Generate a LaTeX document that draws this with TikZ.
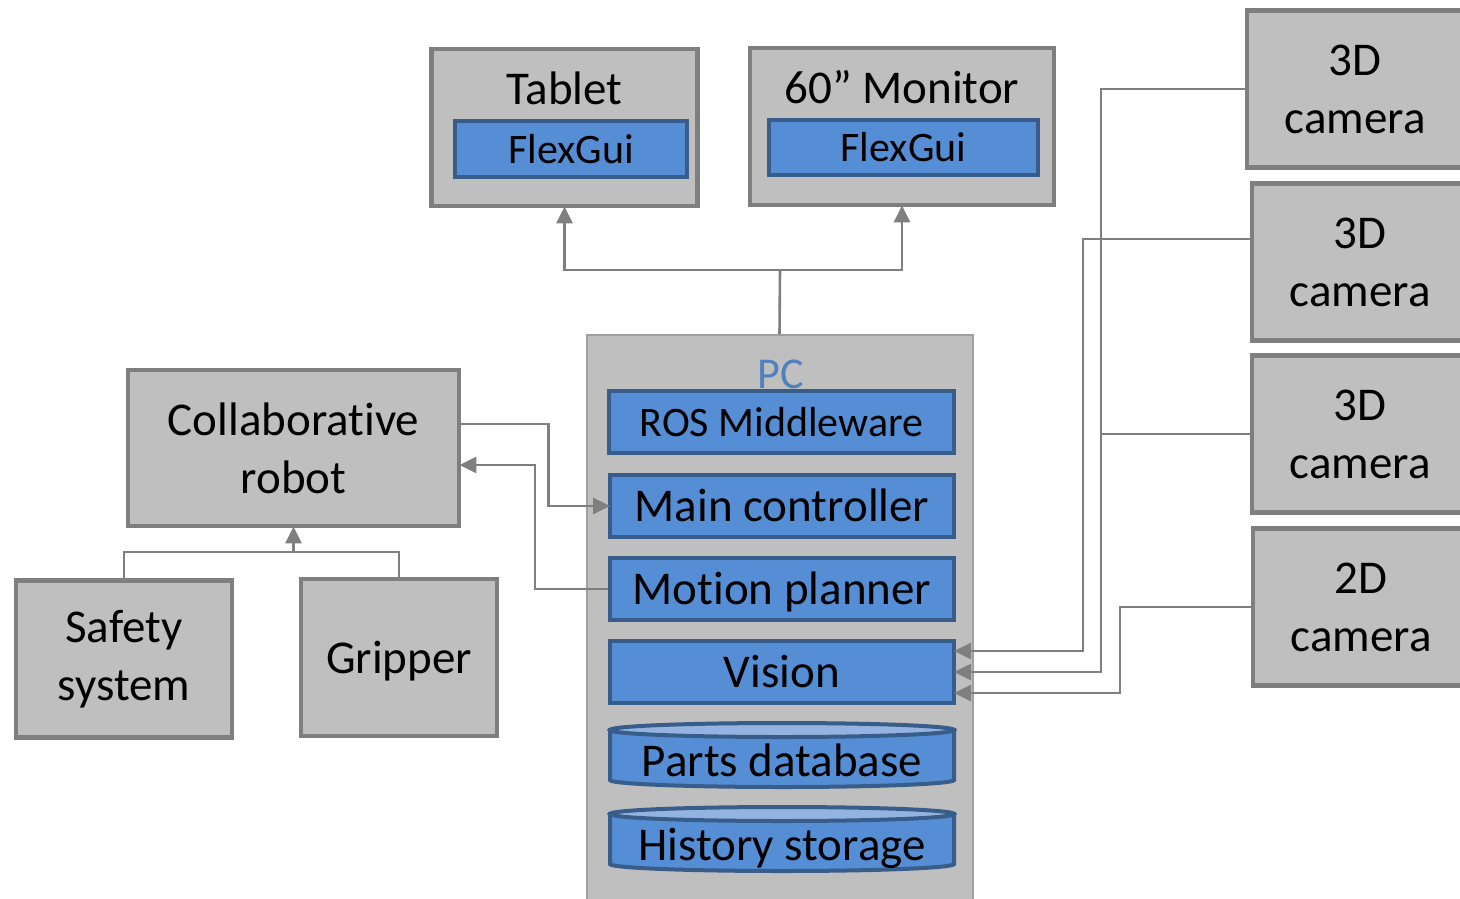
\documentclass[tikz,border=0pt]{standalone}
\usepackage{fontspec}
\setmainfont{Carlito}[Ligatures={TeX,NoCommon,NoContextual}]
\usetikzlibrary{arrows.meta}

\definecolor{boxgray}{HTML}{BFBFBF}
\definecolor{linegray}{HTML}{7F7F7F}
\definecolor{pcline}{HTML}{A0A0A0}
\definecolor{bluemid}{HTML}{558ED5}
\definecolor{bluedark}{HTML}{385D8A}
\definecolor{bluetop}{HTML}{95B3E0}
\definecolor{pcblue}{HTML}{4F81BD}

\tikzset{
	unit/.style={draw=linegray, fill=boxgray, line width=4.8pt, align=center,
		font=\fontsize{47}{58}\selectfont},
	module/.style={draw=bluedark, fill=bluemid, line width=4pt,
		minimum width=344pt, minimum height=62pt, inner sep=0pt,
		text height=40pt, text depth=9pt,
		font=\fontsize{47}{58}\selectfont},
	link/.style={draw=linegray, line width=2.6pt},
	tip/.style={-{Triangle[length=17pt,width=16pt]}, shorten >=-2pt}
}

\begin{document}
\begin{tikzpicture}[x=1pt,y=1pt]
\useasboundingbox (0,0) rectangle (1460,-898);

% displays
\node[unit, minimum width=266pt, minimum height=157pt] (tablet) at (564.5,-127.5) {};
\node[font=\fontsize{47}{58}\selectfont] at (564.5,-88) {Tablet};
\node[module, minimum width=232pt, minimum height=56pt, text height=36pt, text depth=8pt,
	font=\fontsize{42}{50}\selectfont] (guiA) at (571,-149) {FlexGui};
\node[unit, minimum width=304pt, minimum height=157pt] (monitor) at (902,-126.5) {};
\node[font=\fontsize{47}{58}\selectfont] at (902,-87) {60” Monitor};
\node[module, minimum width=269pt, minimum height=55pt, text height=36pt, text depth=8pt,
	font=\fontsize{42}{50}\selectfont] (guiB) at (903.5,-147.5) {FlexGui};

% cameras
\node[unit, minimum width=216pt, minimum height=157pt] (camA) at (1355,-89) {3D\\camera};
\node[unit, minimum width=216pt, minimum height=157pt] (camB) at (1360,-262) {3D\\camera};
\node[unit, minimum width=216pt, minimum height=157pt] (camC) at (1360,-434) {3D\\camera};
\node[unit, minimum width=216pt, minimum height=157pt] (camD) at (1361,-607) {2D\\camera};

% robot side
\node[unit, minimum width=331pt, minimum height=156pt] (robot) at (293.5,-448) {Collaborative\\robot};
\node[unit, minimum width=216pt, minimum height=157pt] (safety) at (124,-659) {Safety\\system};
\node[unit, minimum width=196pt, minimum height=157pt, text height=40pt, text depth=8pt]
	(gripper) at (399,-657.5) {Gripper};

% PC
\node[draw=pcline, fill=boxgray, line width=2pt, minimum width=386pt, minimum height=585pt]
	(pc) at (779.5,-627.5) {};
\node[anchor=base, text=pcblue, font=\fontsize{44}{50}\selectfont] at (781,-388) {PC};
\node[module, minimum width=345pt, text height=36pt, text depth=8pt,
	font=\fontsize{42}{50}\selectfont] (ros) at (781.5,-422) {ROS Middleware};
\node[module] (main) at (782,-506) {Main controller};
\node[module] (motion) at (782,-589) {Motion planner};
\node[module] (vision) at (782,-672) {Vision};
\foreach \y/\name/\txt in {730/parts/Parts database, 814/history/History storage}{
	\filldraw[draw=bluedark, fill=bluemid, line width=4pt]
		(610,-\y) -- (610,-\y-50) arc (180:360:172 and 7) -- (954,-\y) -- cycle;
	\filldraw[draw=bluedark, fill=bluetop, line width=4pt] (782,-\y) ellipse (172 and 7);
	\node[font=\fontsize{47}{58}\selectfont, text height=40pt, text depth=9pt]
		(\name) at (782,-\y-31) {\txt};
}

% connectors
\coordinate (split) at (780,-270);
\draw[link] (pc.north) -- (split);
\draw[link,tip] (split) -| (tablet.south);
\draw[link,tip] (split) -| (monitor.south);

\draw[link,tip] ([yshift=24pt]robot.east) -- ++(87,0) |- (main.west);
\draw[link,tip] (motion.west) -- ++(-73,0) |- ([yshift=-17pt]robot.east);

\coordinate (join) at (293.5,-552);
\draw[link] (safety.north) |- (join) -| (gripper.north);
\draw[link,tip] (join) -- (robot.south);

\draw[link,tip] (camA.west) -| (1101,-560) |- (vision.east);
\draw[link] (camC.west) -| (1101,-560);
\draw[link,tip] ([yshift=23pt]camB.west) -| (1083,-560) |- ([yshift=21pt]vision.east);
\draw[link,tip] (camD.west) -| (1120,-650) |- ([yshift=-21pt]vision.east);
\end{tikzpicture}
\end{document}
